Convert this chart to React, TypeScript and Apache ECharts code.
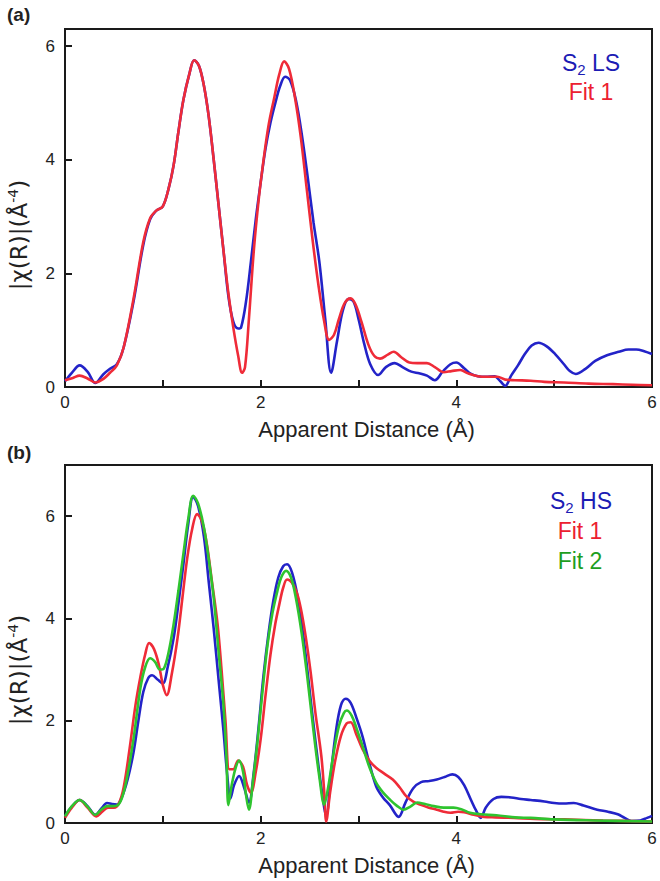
import React, { useEffect, useRef } from "react";
import * as echarts from "echarts";

// ---------- Panel (a): S2 LS vs Fit 1 ----------
const aBlueX = [0, 0.07, 0.15, 0.23, 0.31, 0.39, 0.46, 0.53, 0.6, 0.7, 0.8, 0.87, 0.93, 1.0, 1.06, 1.11, 1.16, 1.21, 1.27, 1.32, 1.37, 1.42, 1.47, 1.52, 1.57, 1.62, 1.67, 1.72, 1.77, 1.8, 1.85, 1.9, 1.95, 2.0, 2.05, 2.1, 2.15, 2.2, 2.25, 2.3, 2.36, 2.42, 2.48, 2.54, 2.6, 2.66, 2.72, 2.78, 2.84, 2.9, 2.95, 3.0, 3.06, 3.12, 3.2, 3.28, 3.37, 3.45, 3.54, 3.62, 3.7, 3.78, 3.86, 3.94, 4.0, 4.08, 4.15, 4.22, 4.3, 4.39, 4.45, 4.5, 4.56, 4.63, 4.7, 4.77, 4.84, 4.92, 5.01, 5.1, 5.16, 5.22, 5.32, 5.42, 5.54, 5.66, 5.76, 5.84, 5.92, 6.0];
const aBlueY = [0.1, 0.25, 0.38, 0.27, 0.07, 0.22, 0.32, 0.4, 0.7, 1.5, 2.5, 2.95, 3.1, 3.18, 3.5, 3.9, 4.5, 5.05, 5.5, 5.75, 5.65, 5.3, 4.75, 4.0, 3.2, 2.4, 1.6, 1.15, 1.03, 1.05, 1.5, 2.2, 2.95, 3.6, 4.2, 4.65, 5.0, 5.3, 5.46, 5.4, 5.05, 4.45, 3.7, 2.9, 2.2, 1.2, 0.25, 0.8, 1.35, 1.55, 1.5, 1.2, 0.75, 0.4, 0.21, 0.35, 0.42, 0.35, 0.27, 0.24, 0.2, 0.12, 0.27, 0.4, 0.43, 0.33, 0.23, 0.19, 0.18, 0.19, 0.1, 0.02, 0.2, 0.38, 0.58, 0.73, 0.78, 0.72, 0.58, 0.4, 0.28, 0.23, 0.32, 0.46, 0.56, 0.62, 0.66, 0.66, 0.63, 0.58];

const aRedX = [0, 0.08, 0.15, 0.23, 0.31, 0.39, 0.46, 0.53, 0.6, 0.7, 0.8, 0.87, 0.93, 1.0, 1.06, 1.11, 1.16, 1.21, 1.27, 1.32, 1.37, 1.42, 1.47, 1.52, 1.57, 1.62, 1.67, 1.72, 1.77, 1.81, 1.84, 1.88, 1.93, 1.98, 2.03, 2.08, 2.14, 2.19, 2.24, 2.29, 2.35, 2.41, 2.47, 2.53, 2.59, 2.65, 2.7, 2.75, 2.8, 2.86, 2.92, 2.97, 3.03, 3.1, 3.16, 3.22, 3.3, 3.36, 3.44, 3.52, 3.6, 3.7, 3.78, 3.87, 3.95, 4.04, 4.12, 4.22, 4.32, 4.42, 4.5, 4.6, 4.76, 4.9, 5.1, 5.35, 5.6, 5.8, 6.0];
const aRedY = [0.12, 0.16, 0.2, 0.15, 0.08, 0.14, 0.25, 0.38, 0.7, 1.55, 2.55, 2.97, 3.1, 3.18, 3.5, 3.9, 4.5, 5.05, 5.5, 5.75, 5.65, 5.3, 4.75, 4.0, 3.2, 2.4, 1.65, 1.05, 0.55, 0.25, 0.35, 1.2, 2.4, 3.3, 4.0, 4.6, 5.1, 5.5, 5.73, 5.6, 5.1, 4.4, 3.5, 2.6, 1.8, 1.15, 0.83, 0.92, 1.2, 1.48, 1.56, 1.45, 1.15, 0.75, 0.55, 0.5, 0.57, 0.62, 0.52, 0.43, 0.42, 0.42, 0.35, 0.26, 0.28, 0.3, 0.24, 0.19, 0.18, 0.18, 0.13, 0.12, 0.11, 0.09, 0.08, 0.06, 0.05, 0.04, 0.03];

// ---------- Panel (b): S2 HS vs Fit 1 and Fit 2 ----------
const bBlueX = [0, 0.07, 0.15, 0.23, 0.31, 0.37, 0.43, 0.48, 0.53, 0.58, 0.64, 0.7, 0.75, 0.8, 0.85, 0.89, 0.95, 1.0, 1.05, 1.11, 1.16, 1.21, 1.26, 1.31, 1.36, 1.42, 1.47, 1.52, 1.57, 1.62, 1.66, 1.69, 1.73, 1.78, 1.83, 1.88, 1.93, 1.98, 2.03, 2.08, 2.13, 2.18, 2.23, 2.27, 2.32, 2.38, 2.44, 2.5, 2.56, 2.62, 2.67, 2.72, 2.77, 2.82, 2.87, 2.92, 2.98, 3.04, 3.1, 3.18, 3.25, 3.32, 3.41, 3.48, 3.56, 3.64, 3.72, 3.8, 3.88, 3.96, 4.02, 4.08, 4.15, 4.2, 4.25, 4.3, 4.38, 4.46, 4.56, 4.66, 4.76, 4.9, 5.0, 5.1, 5.2, 5.3, 5.44, 5.55, 5.65, 5.72, 5.79, 5.88, 5.95, 6.0];
const bBlueY = [0.13, 0.32, 0.45, 0.33, 0.16, 0.28, 0.39, 0.37, 0.36, 0.5, 0.85, 1.38, 2.0, 2.56, 2.83, 2.89, 2.8, 2.73, 3.05, 3.61, 4.3, 5.06, 5.85, 6.38, 6.2, 5.6, 4.7, 3.8, 2.8, 1.8, 0.9, 0.48, 0.75, 0.92, 0.7, 0.4, 1.0, 1.9, 2.9, 3.7, 4.35, 4.8, 5.02, 5.06, 4.9, 4.4, 3.6, 2.6, 1.6, 0.7, 0.15, 1.0, 1.8, 2.3, 2.43, 2.35, 2.05, 1.7, 1.25, 0.72, 0.5, 0.35, 0.12, 0.4, 0.68, 0.8, 0.82, 0.85, 0.9, 0.95, 0.9, 0.74, 0.45, 0.25, 0.1, 0.3, 0.47, 0.51, 0.5, 0.47, 0.45, 0.42, 0.39, 0.38, 0.39, 0.34, 0.26, 0.22, 0.17, 0.1, 0.04, 0.05, 0.1, 0.14];

const bRedX = [0, 0.07, 0.15, 0.23, 0.32, 0.38, 0.44, 0.5, 0.55, 0.6, 0.66, 0.72, 0.77, 0.82, 0.86, 0.91, 0.96, 1.0, 1.04, 1.09, 1.15, 1.2, 1.25, 1.3, 1.35, 1.4, 1.45, 1.5, 1.56, 1.6, 1.64, 1.68, 1.72, 1.77, 1.82, 1.86, 1.9, 1.95, 2.0, 2.05, 2.1, 2.15, 2.19, 2.23, 2.27, 2.32, 2.37, 2.41, 2.46, 2.51, 2.56, 2.62, 2.65, 2.67, 2.71, 2.76, 2.82, 2.88, 2.92, 2.98, 3.04, 3.11, 3.18, 3.26, 3.35, 3.42, 3.49, 3.56, 3.63, 3.72, 3.8, 3.87, 3.94, 4.02, 4.08, 4.18, 4.28, 4.4, 4.59, 4.8, 5.1, 5.5, 6.0];
const bRedY = [0.1, 0.3, 0.45, 0.3, 0.13, 0.22, 0.3, 0.3, 0.38, 0.7, 1.45, 2.3, 2.85, 3.3, 3.52, 3.4, 3.09, 2.7, 2.5, 2.9, 3.61, 4.4, 5.19, 5.75, 6.04, 5.9, 5.45, 4.75, 3.88, 3.0, 2.0, 1.05, 1.05, 1.22, 1.1, 0.75, 0.59, 1.0, 1.64, 2.5, 3.29, 3.9, 4.27, 4.6, 4.76, 4.7, 4.5, 4.2, 3.65, 2.96, 2.15, 1.31, 0.6, 0.03, 0.6, 1.2, 1.7, 1.95, 1.97, 1.72, 1.45, 1.22, 1.08, 0.97, 0.85, 0.7, 0.52, 0.42, 0.36, 0.3, 0.26, 0.22, 0.2, 0.22, 0.21, 0.16, 0.12, 0.11, 0.1, 0.08, 0.07, 0.05, 0.03];

const bGreenX = [0, 0.07, 0.15, 0.23, 0.31, 0.37, 0.43, 0.48, 0.53, 0.58, 0.63, 0.7, 0.77, 0.82, 0.87, 0.92, 0.97, 1.01, 1.06, 1.11, 1.16, 1.21, 1.26, 1.31, 1.36, 1.42, 1.47, 1.52, 1.57, 1.62, 1.65, 1.67, 1.7, 1.74, 1.78, 1.82, 1.85, 1.88, 1.92, 1.97, 2.02, 2.07, 2.12, 2.17, 2.21, 2.26, 2.31, 2.36, 2.42, 2.48, 2.54, 2.6, 2.65, 2.69, 2.74, 2.8, 2.85, 2.88, 2.93, 2.98, 3.04, 3.11, 3.18, 3.25, 3.32, 3.39, 3.46, 3.53, 3.6, 3.68, 3.77, 3.87, 3.97, 4.05, 4.14, 4.25, 4.41, 4.6, 4.76, 5.0, 5.4, 6.0];
const bGreenY = [0.13, 0.33, 0.45, 0.32, 0.16, 0.26, 0.33, 0.33, 0.34, 0.48, 0.85, 1.64, 2.63, 3.05, 3.22, 3.15, 3.0, 3.02, 3.35, 3.88, 4.55, 5.26, 5.95, 6.4, 6.25, 5.78, 5.15, 4.4, 3.35, 2.3, 1.3, 0.35, 0.7, 1.05, 1.22, 1.0, 0.55, 0.26, 0.8, 1.64, 2.6, 3.48, 4.1, 4.53, 4.8, 4.93, 4.8, 4.4, 3.7, 2.8, 1.8, 0.9, 0.36, 0.7, 1.3, 1.9, 2.15, 2.2, 2.1, 1.85, 1.51, 1.1, 0.79, 0.6, 0.46, 0.34, 0.26, 0.32, 0.4, 0.37, 0.33, 0.3, 0.3, 0.27, 0.2, 0.17, 0.15, 0.11, 0.1, 0.07, 0.05, 0.03];

const xTickLabels = ["0", "2", "4", "6"];
const yTickLabels = ["0", "2", "4", "6"];

const BLUE = "#2323c8";
const RED = "#ef2b38";
const GREEN = "#2fc42f";
const BLUE_TXT = "#1c1cb4";
const RED_TXT = "#ec2030";
const GREEN_TXT = "#1e9e1e";
const INK = "#1a1a1a";
const FONT = "'Liberation Sans', Arial, Helvetica, sans-serif";

function pairs(xs: number[], ys: number[]) {
  return xs.map((x, i) => [x, ys[i]]);
}

function makeX(gi: number) {
  return {
    type: "value",
    gridIndex: gi,
    min: 0,
    max: 6,
    interval: 1,
    axisLine: { show: true, lineStyle: { color: INK, width: 2 } },
    axisTick: { show: true, inside: true, length: 7, lineStyle: { color: INK, width: 2 } },
    axisLabel: {
      formatter: (v: number) => (xTickLabels.includes(String(v)) ? String(v) : ""),
      color: "#222",
      fontSize: 17,
      fontFamily: FONT,
      margin: 7,
    },
    splitLine: { show: false },
    name: "Apparent Distance (Å)",
    nameLocation: "middle",
    nameGap: 31,
    nameTextStyle: { color: "#222", fontSize: 22, fontFamily: FONT, padding: [0, 0, 0, 16] },
  };
}

function makeY(gi: number, max: number) {
  return {
    type: "value",
    gridIndex: gi,
    min: 0,
    max,
    interval: 2,
    axisLine: { show: true, lineStyle: { color: INK, width: 2 } },
    axisTick: { show: true, inside: true, length: 7, lineStyle: { color: INK, width: 2 } },
    axisLabel: {
      formatter: (v: number) => (yTickLabels.includes(String(v)) ? String(v) : ""),
      color: "#222",
      fontSize: 17,
      fontFamily: FONT,
      margin: 10,
    },
    splitLine: { show: false },
  };
}

function line(name: string, xi: number, data: number[][], color: string, z: number) {
  return {
    type: "line",
    name,
    xAxisIndex: xi,
    yAxisIndex: xi,
    data,
    showSymbol: false,
    smooth: 0.35,
    z,
    lineStyle: { color, width: 2.6 },
    itemStyle: { color },
  };
}

function legendText(text: string, x: number, y: number, color: string, lh: number) {
  return {
    type: "text",
    x,
    y,
    z: 100,
    style: {
      text,
      fill: color,
      fontSize: 23,
      fontFamily: FONT,
      align: "center",
      verticalAlign: "middle",
      rich: {
        n: { fontSize: 23, fontFamily: FONT, fill: color, lineHeight: lh },
        sub: { fontSize: 15, fontFamily: FONT, fill: color, lineHeight: 14, verticalAlign: "bottom" },
      },
    },
  };
}

function yName(y: number) {
  return {
    type: "text",
    x: 19,
    y,
    rotation: Math.PI / 2,
    z: 100,
    style: {
      text: "{n||χ(R)|(Å}{sup|-4}{n|)}",
      fill: "#222",
      align: "center",
      verticalAlign: "middle",
      rich: {
        n: { fontSize: 23, fontFamily: "'DejaVu Sans', sans-serif", fill: "#222", lineHeight: 26 },
        sup: { fontSize: 14, fontFamily: "'DejaVu Sans', sans-serif", fill: "#222", lineHeight: 14, verticalAlign: "top" },
      },
    },
  };
}

function panelLabel(text: string, y: number) {
  return {
    type: "text",
    x: 7,
    y,
    z: 100,
    style: { text, fill: "#222", fontSize: 19, fontFamily: FONT, fontWeight: "bold", align: "left", verticalAlign: "middle" },
  };
}

export default function App() {
  const ref = useRef<HTMLDivElement>(null);
  useEffect(() => {
    if (!ref.current) return;
    const chart = echarts.init(ref.current, null, { renderer: "svg" });
    const gridBase = { show: true, borderColor: INK, borderWidth: 2, backgroundColor: "transparent", containLabel: false };
    chart.setOption({
      animation: false,
      backgroundColor: "#ffffff",
      grid: [
        { ...gridBase, left: 65, top: 29, width: 587, height: 358 },
        { ...gridBase, left: 65, top: 465, width: 587, height: 358 },
      ],
      xAxis: [makeX(0), makeX(1)],
      yAxis: [makeY(0, 6.3), makeY(1, 7)],
      series: [
        line("S2 LS", 0, pairs(aBlueX, aBlueY), BLUE, 2),
        line("Fit 1", 0, pairs(aRedX, aRedY), RED, 3),
        line("S2 HS", 1, pairs(bBlueX, bBlueY), BLUE, 2),
        line("Fit 1", 1, pairs(bRedX, bRedY), RED, 3),
        line("Fit 2", 1, pairs(bGreenX, bGreenY), GREEN, 4),
      ],
      graphic: [
        panelLabel("(a)", 14),
        panelLabel("(b)", 452),
        yName(235),
        yName(670),
        legendText("{n|S}{sub|2}{n| LS}", 591, 63, BLUE_TXT, 28),
        legendText("{n|Fit 1}", 591, 92, RED_TXT, 24),
        legendText("{n|S}{sub|2}{n| HS}", 581, 501, BLUE_TXT, 28),
        legendText("{n|Fit 1}", 580, 531, RED_TXT, 24),
        legendText("{n|Fit 2}", 580, 561, GREEN_TXT, 24),
      ],
    });
    return () => chart.dispose();
  }, []);
  return (
    <div
      ref={ref}
      style={{ position: "fixed", left: 0, top: 0, width: 660, height: 881, background: "#fff" }}
    />
  );
}
